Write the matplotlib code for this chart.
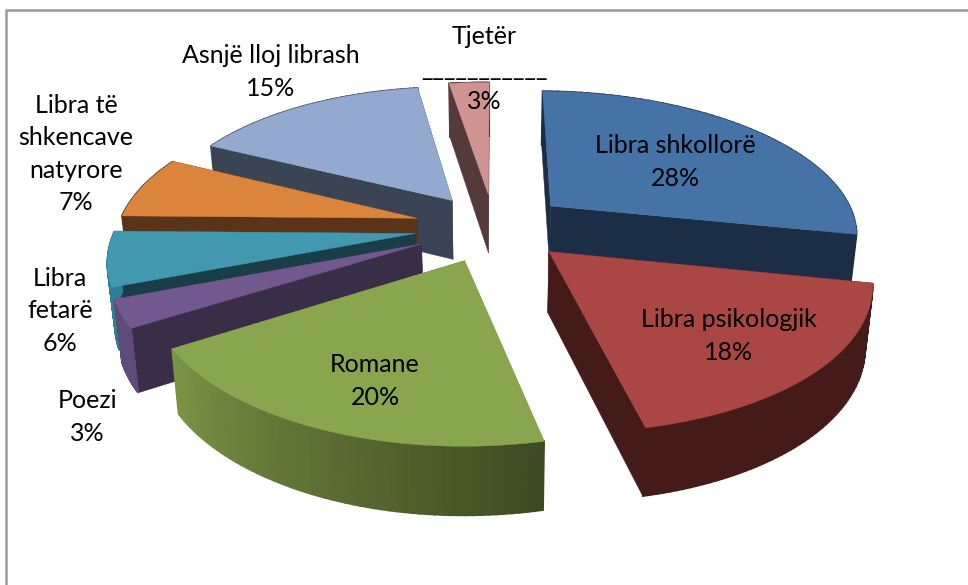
import numpy as np
import matplotlib
matplotlib.use('Agg')
import matplotlib.pyplot as plt

# data
names = ['Libra shkollorë', 'Libra psikologjik', 'Romane', 'Poezi', 'Libra\nfetarë',
         'Libra të\nshkencave\nnatyrore', 'Asnjë lloj librash', 'Tjetër\n___________']
values = [28, 18.4, 19.6, 3, 6, 7, 15.4, 2.6]
explode = [0.245, 0.24, 0.25, 0.267, 0.267, 0.267, 0.24, 0.24]
top_colors = ['#4573a7', '#aa4644', '#89a54e', '#71588f', '#4198af', '#db843d', '#93a9cf', '#d19392']
wall_colors = ['#1c2e45', '#451b1a', '#6f8a3f', '#3a2d48', '#1a3e47', '#5a3318', '#3b4454', '#553a3a']
arc_colors = ['#1c2e45', '#451b1a', '#7a9445', '#5f4a7a', '#2f7f93', '#5a3318', '#3b4454', '#553a3a']
arc_end_colors = ['#1c2e45', '#451b1a', '#3e4a22', '#5f4a7a', '#2f7f93', '#5a3318', '#3b4454', '#553a3a']
label_x = [675, 729, 375, 87, 60, 76, 271, 484]
label_y = [162, 336, 381, 417, 311, 154, 72, 69]
draw_order = [7, 6, 5, 4, 3, 2, 0, 1]

# pie shape in pixels
cx, cy = 494, 227
a_left, a_right = 298, 308
b = 141
persp = 0.17
roll = 0.008
depth = 60
shrink = 0.98
arc_steps = 60


def project(X, Y):
    s = 1 / (1 + persp * Y)
    a = np.where(X < 0, a_left, a_right)
    px = cx + a * X * s
    return px, cy - b * Y * s + roll * (px - cx), s


def lower(px, py, s):
    return cx + (px - cx) * shrink, py + depth * s ** 0.6


def mix(c1, c2, t):
    c1 = np.array(matplotlib.colors.to_rgb(c1))
    c2 = np.array(matplotlib.colors.to_rgb(c2))
    return tuple(c1 + (c2 - c1) * t)


fig = plt.figure(figsize=(9.68, 5.85), dpi=100)
ax = fig.add_axes([0, 0, 1, 1])
ax.set_xlim(0, 968)
ax.set_ylim(585, 0)
ax.axis('off')

# frame
ax.plot([6, 6, 968], [585, 10, 10], color='#9a9a9a', lw=1.8, solid_joinstyle='miter')

edges = np.cumsum([0] + values) / sum(values) * 2 * np.pi

for n, i in enumerate(draw_order):
    t0, t1 = edges[i], edges[i + 1]
    mid = (t0 + t1) / 2
    ox, oy = explode[i] * np.sin(mid), explode[i] * np.cos(mid)
    th = np.linspace(t0, t1, arc_steps)
    tx, ty, ts = project(ox, oy)
    ox_arc, oy_arc, os_arc = project(ox + np.sin(th), oy + np.cos(th))
    bx_arc, by_arc = lower(ox_arc, oy_arc, os_arc)
    tbx, tby = lower(tx, ty, ts)

    # straight cut walls
    for k in [0, -1]:
        ax.fill([tx, ox_arc[k], bx_arc[k], tbx], [ty, oy_arc[k], by_arc[k], tby],
                color=wall_colors[i], lw=0.3, zorder=n * 3 + 1)

    # outer wall, with the shading along the arc
    for j in range(arc_steps - 1):
        c = mix(arc_end_colors[i], arc_colors[i], j / (arc_steps - 2))
        ax.fill([ox_arc[j], ox_arc[j + 1], bx_arc[j + 1], bx_arc[j]],
                [oy_arc[j], oy_arc[j + 1], by_arc[j + 1], by_arc[j]],
                color=c, lw=1.2, zorder=n * 3 + 2)

    # top face
    ax.fill(np.r_[tx, ox_arc], np.r_[ty, oy_arc], color=top_colors[i], lw=0.3, zorder=n * 3 + 3)

for i in range(len(names)):
    txt = names[i] + '\n' + str(round(values[i])) + '%'
    ax.text(label_x[i], label_y[i], txt, ha='center', va='center', fontsize=18,
            family='Lato', color='black', linespacing=1.5, zorder=50)

fig.savefig('out.png', dpi=100)
